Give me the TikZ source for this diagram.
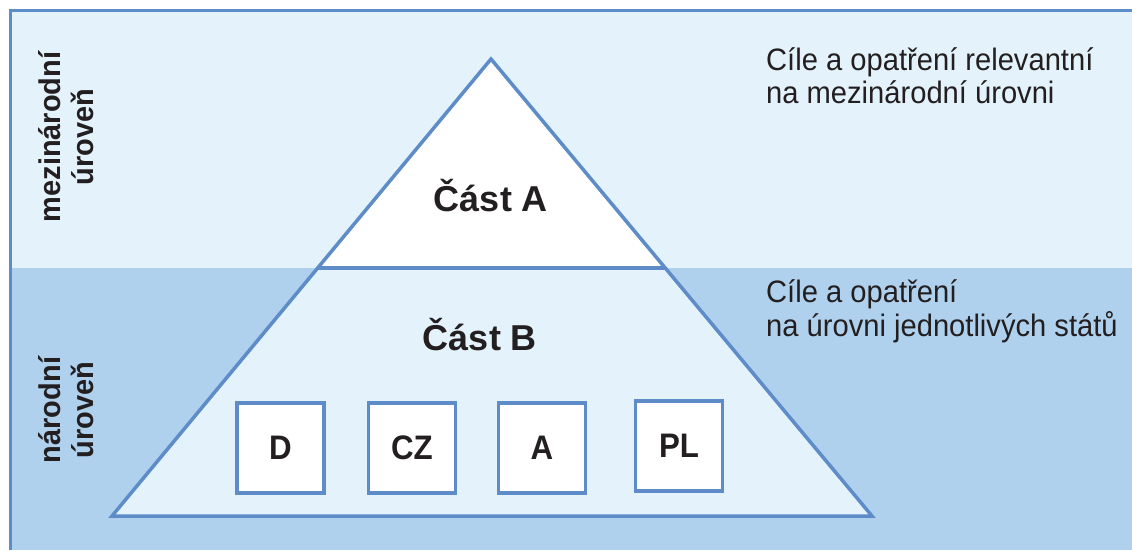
\documentclass[tikz,border=0pt]{standalone}
\usepackage{fontspec}
\usepackage{graphicx}
\setmainfont{Liberation Sans}
\definecolor{lightband}{HTML}{E4F3FB}
\definecolor{darkband}{HTML}{AFD1EE}
\definecolor{edgeblue}{HTML}{5E8CC8}
\definecolor{ink}{HTML}{231F20}
\newcommand{\narrowtext}[2]{\scalebox{#1}[1]{#2}}
\begin{document}
\begin{tikzpicture}[x=1pt,y=-1pt,
  frameline/.style={draw=edgeblue,line width=3pt},
  pyrline/.style={draw=edgeblue,line width=3.5pt,line join=miter},
  partlabel/.style={font=\fontsize{36}{40}\selectfont\bfseries,text=ink,anchor=base,inner sep=0pt},
  statebox/.style={draw=edgeblue,line width=3.5pt,fill=white,minimum width=87pt,minimum height=90pt,inner sep=0pt,font=\fontsize{34}{40}\selectfont\bfseries,text=ink},
  sidetext/.style={font=\fontsize{31}{34}\selectfont,text=ink,anchor=base west,inner sep=0pt},
  levellabel/.style={font=\fontsize{30}{34}\selectfont\bfseries,text=ink,anchor=base,rotate=90,inner sep=0pt}]
\useasboundingbox (0,0) rectangle (1132,550);
\fill[white] (0,0) rectangle (1132,550);
% bands
\fill[lightband] (10,10) rectangle (1132,268);
\fill[darkband] (10,268) rectangle (1132,550);
\draw[frameline] (10,550) -- (10,10) -- (1132,10);
% pyramid
\coordinate (apex) at (491,59);
\coordinate (bl) at (112,516);
\coordinate (br) at (872,516);
\coordinate (ml) at (318,268);
\coordinate (mr) at (665,268);
\fill[lightband] (ml) -- (mr) -- (br) -- (bl) -- cycle;
\fill[white] (apex) -- (mr) -- (ml) -- cycle;
\draw[pyrline] (apex) -- (br) -- (bl) -- cycle;
\draw[pyrline] (ml) -- (mr);
% part labels
\node[partlabel] (partA) at (491,211) {Část A};
\node[partlabel] (partB) at (480,350) {Část B};
% state boxes
\node[statebox] (boxD) at (280.5,448) {\narrowtext{0.92}{D}};
\node[statebox] (boxCZ) at (412,448) {\narrowtext{0.92}{CZ}};
\node[statebox] (boxA) at (542,448) {\narrowtext{0.92}{A}};
\node[statebox] (boxPL) at (679,446) {\narrowtext{0.92}{PL}};
% right texts
\node[sidetext] (t1a) at (766,70) {\narrowtext{0.94}{Cíle a opatření relevantní}};
\node[sidetext] (t1b) at (766,103) {\narrowtext{0.94}{na mezinárodní úrovni}};
\node[sidetext] (t2a) at (766,302) {\narrowtext{0.94}{Cíle a opatření}};
\node[sidetext] (t2b) at (766,336) {\narrowtext{0.94}{na úrovni jednotlivých států}};
% left level labels
\node[levellabel] (l1a) at (60,137) {\narrowtext{0.965}{mezinárodní}};
\node[levellabel] (l1b) at (93,137) {\narrowtext{0.965}{úroveň}};
\node[levellabel] (l2a) at (60,410) {\narrowtext{0.965}{národní}};
\node[levellabel] (l2b) at (93,410) {\narrowtext{0.965}{úroveň}};
\end{tikzpicture}
\end{document}
